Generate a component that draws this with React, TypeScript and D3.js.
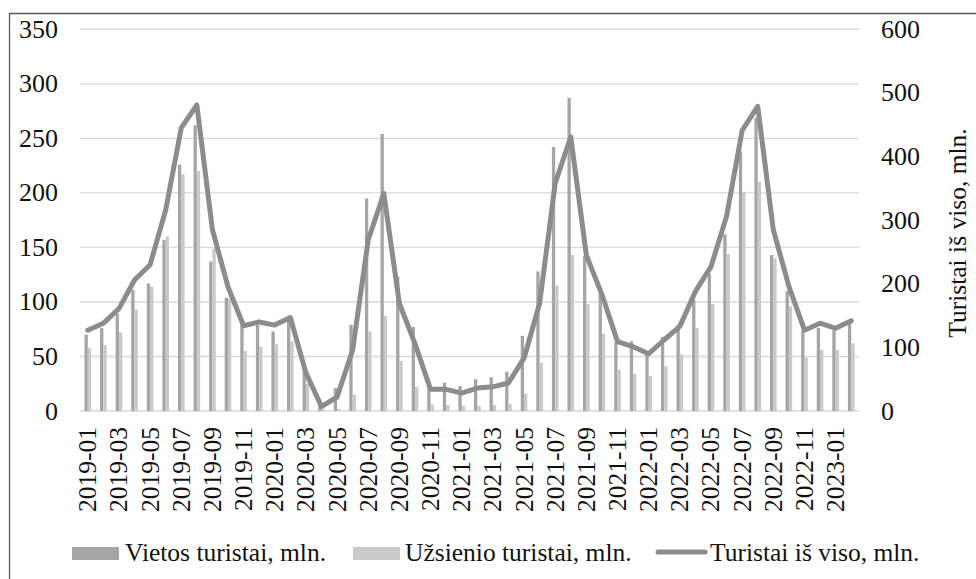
import React from "react";
import * as d3 from "d3";

const months: string[] = [
  "2019-01","2019-02","2019-03","2019-04","2019-05","2019-06","2019-07","2019-08","2019-09","2019-10","2019-11","2019-12",
  "2020-01","2020-02","2020-03","2020-04","2020-05","2020-06","2020-07","2020-08","2020-09","2020-10","2020-11","2020-12",
  "2021-01","2021-02","2021-03","2021-04","2021-05","2021-06","2021-07","2021-08","2021-09","2021-10","2021-11","2021-12",
  "2022-01","2022-02","2022-03","2022-04","2022-05","2022-06","2022-07","2022-08","2022-09","2022-10","2022-11","2022-12",
  "2023-01","2023-02",
];

const vietos: number[] = [
  70, 76, 89, 111, 117, 157, 226, 262, 137, 104, 79, 79,
  73, 84, 37, 5, 21, 79, 195, 254, 123, 77, 27, 26,
  23, 29, 31, 36, 69, 128, 242, 287, 142, 108, 63, 64,
  53, 68, 79, 102, 126, 162, 238, 269, 143, 110, 74, 76,
  74, 81,
];

const uzsienio: number[] = [
  57.5, 60.6, 72, 93, 114, 160, 217, 220, 149, 103, 55, 59,
  61, 64, 25, 2, 2, 15, 73, 87, 46, 22, 6, 5.5,
  4.6, 4.6, 5.5, 6.4, 16, 44, 115, 143, 98, 71, 38, 34,
  32, 41, 52, 76, 98, 144, 201, 210, 140, 96, 49, 56,
  56, 62,
];

const total: number[] = [
  127, 138, 161, 206, 230, 316, 445, 481, 285, 195, 134, 140,
  135, 147, 60, 7, 22, 96, 269, 342, 169, 106, 34, 34,
  28, 36, 38, 44, 83, 169, 358, 431, 245, 183, 109, 101,
  90, 112, 133, 188, 227, 306, 441, 479, 285, 196, 127, 138,
  130, 142,
];

const leftTicks: number[] = [0, 50, 100, 150, 200, 250, 300, 350];
const rightTicks: number[] = [0, 100, 200, 300, 400, 500, 600];
const seriesNames: string[] = ["Vietos turistai, mln.", "Užsienio turistai, mln.", "Turistai iš viso, mln."];
const rightTitle = "Turistai iš viso, mln.";

const FONT = '"Liberation Serif", "DejaVu Serif", serif';
const C_DARK = "#a5a5a5";
const C_LIGHT = "#c9c9c9";
const C_LINE = "#8c8c8c";
const C_GRID = "#d9d9d9";
const C_TEXT = "#111111";

export default function App() {
  const W = 976, H = 579;
  const left = 80, right = 859, top = 29.3, bottom = 411;

  const x = d3.scaleBand<string>().domain(months).range([left, right]).paddingInner(0.576).paddingOuter(0.288);
  const sub = d3.scaleBand<string>().domain(["v", "u"]).range([0, x.bandwidth()]).padding(0);
  const yL = d3.scaleLinear().domain([0, 350]).range([bottom, top]);
  const yR = d3.scaleLinear().domain([0, 600]).range([bottom, top]);
  const cx = (m: string) => (x(m) as number) + x.bandwidth() / 2;

  const lineGen = d3.line<number>()
    .x((_, i) => cx(months[i]))
    .y((d) => yR(d));

  const ts = { fontFamily: FONT } as React.CSSProperties;

  return (
    <svg width={W} height={H} style={{ position: "absolute", left: 0, top: 0, background: "#fff", fontFamily: FONT }}>
      <rect x={0} y={0} width={W} height={H} fill="#fff" />
      <path d={`M9.5,${H + 5} V13.5 H${W + 5}`} fill="none" stroke="#595959" strokeWidth={1.3} />
      {leftTicks.map((t) => (
        <line key={"g" + t} x1={left} x2={right} y1={yL(t)} y2={yL(t)} stroke={C_GRID} strokeWidth={1.4} />
      ))}
      {months.map((m, i) => (
        <g key={"b" + m}>
          <rect x={(x(m) as number) + (sub("v") as number)} y={yL(vietos[i])} width={sub.bandwidth()} height={bottom - yL(vietos[i])} fill={C_DARK} />
          <rect x={(x(m) as number) + (sub("u") as number)} y={yL(uzsienio[i])} width={sub.bandwidth()} height={bottom - yL(uzsienio[i])} fill={C_LIGHT} />
        </g>
      ))}
      <path d={lineGen(total) || ""} fill="none" stroke={C_LINE} strokeWidth={5} strokeLinejoin="round" strokeLinecap="round" />
      {leftTicks.map((t) => (
        <text key={"l" + t} style={ts} x={58} y={yL(t)} textAnchor="end" dominantBaseline="central" fontSize={26} fill={C_TEXT}>{t}</text>
      ))}
      {rightTicks.map((t) => (
        <text key={"r" + t} style={ts} x={881} y={yR(t)} textAnchor="start" dominantBaseline="central" fontSize={26} fill={C_TEXT}>{t}</text>
      ))}
      <text style={ts} transform={`translate(957,233) rotate(-90)`} textAnchor="middle" dominantBaseline="central" fontSize={25.5} fill={C_TEXT}>{rightTitle}</text>
      {months.map((m, i) => i % 2 === 0 ? (
        <text key={"x" + m} style={ts} transform={`translate(${cx(m)},427) rotate(-90)`} textAnchor="end" dominantBaseline="central" fontSize={25.5} fill={C_TEXT}>{m}</text>
      ) : null)}
      <rect x={72} y={547} width={47} height={13} fill={C_DARK} />
      <text style={ts} x={125} y={561} fontSize={25.5} fill={C_TEXT}>{seriesNames[0]}</text>
      <rect x={353} y={547} width={47} height={13} fill={C_LIGHT} />
      <text style={ts} x={405} y={561} fontSize={25.5} fill={C_TEXT}>{seriesNames[1]}</text>
      <line x1={658} x2={705} y1={552} y2={552} stroke={C_LINE} strokeWidth={5} strokeLinecap="round" />
      <text style={ts} x={710} y={561} fontSize={25.5} fill={C_TEXT}>{seriesNames[2]}</text>
    </svg>
  );
}
